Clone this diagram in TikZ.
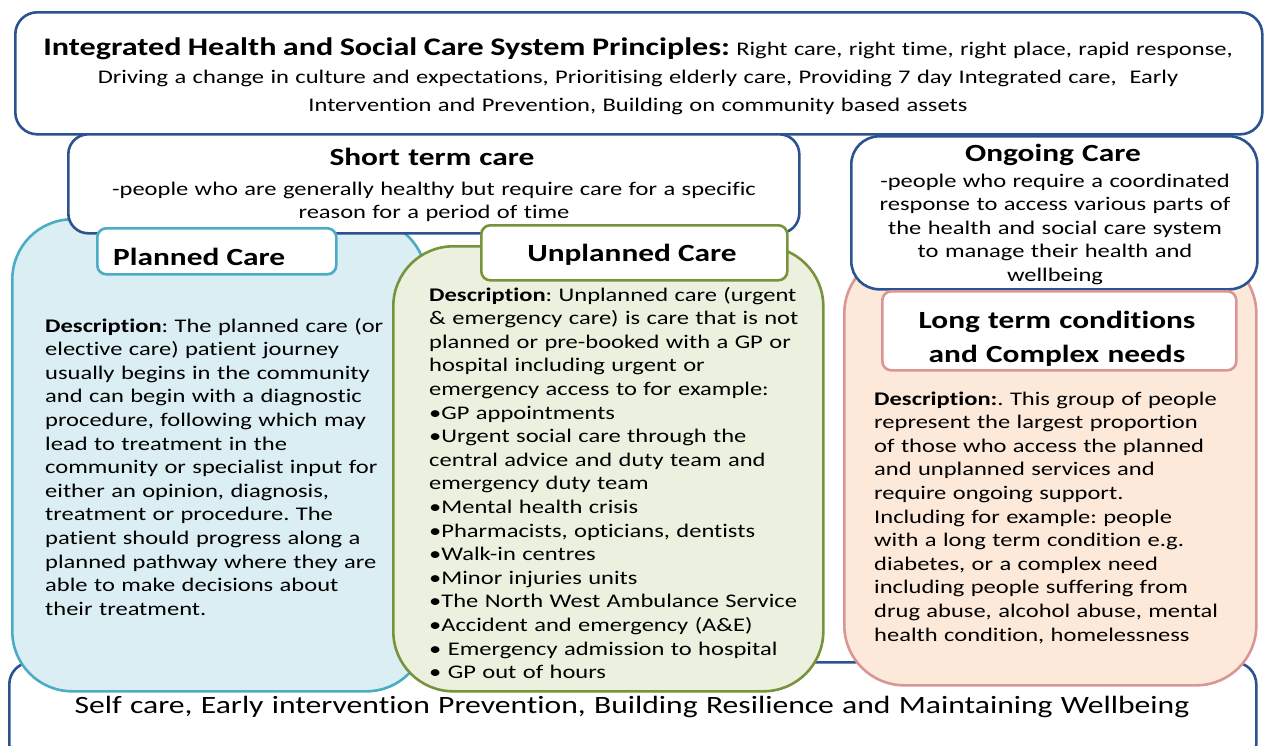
\documentclass[tikz,border=0pt]{standalone}
\usepackage{fontspec}
\setmainfont{Carlito}[FakeStretch=1.27,Ligatures={TeX,NoCommon}]
\usetikzlibrary{positioning}
\frenchspacing

\definecolor{navy}{HTML}{2C5290}
\definecolor{plannedfill}{HTML}{DAEEF3}
\definecolor{plannedline}{HTML}{4BACC6}
\definecolor{unplannedfill}{HTML}{EBF1DE}
\definecolor{unplannedline}{HTML}{77933C}
\definecolor{ltcfill}{HTML}{FDE9D9}
\definecolor{ltcline}{HTML}{D99694}

\begin{document}
\begin{tikzpicture}[x=1pt,y=-1pt,
  rimbox/.style={draw=navy,line width=2.6pt,fill=white,rounded corners=#1,inner sep=0pt,anchor=north west},
  careblock/.style={line width=2.6pt,rounded corners=60pt,inner sep=0pt,anchor=north west},
  tagbox/.style={draw=#1,line width=2.6pt,fill=white,rounded corners=9pt,inner sep=0pt,anchor=north west},
  body/.style={font=\fontsize{19.3}{23.6}\selectfont,align=left,inner sep=0pt,anchor=base west},
  mid/.style={font=\fontsize{19.3}{23.6}\selectfont,align=center,inner sep=0pt,anchor=base},
  heading/.style={font=\fontsize{24.7}{34.5}\selectfont\bfseries,align=center,inner sep=0pt,anchor=base}
]
\useasboundingbox (0,0) rectangle (1266,745);

% outer bands
\node[rimbox=22pt,minimum width=1247pt,minimum height=122pt] (principles) at (14,11) {};
\node[rimbox=22pt,minimum width=1247pt,minimum height=104pt] (base) at (8,661) {};

% planned care
\node[careblock,draw=plannedline,fill=plannedfill,minimum width=414pt,minimum height=472pt] (planned) at (11,218) {};
\node[rimbox=20pt,minimum width=731pt,minimum height=99pt] (shortterm) at (67,133) {};
\node[tagbox=plannedline,minimum width=239pt,minimum height=46pt] (plannedtag) at (96,227) {};

% unplanned care
\node[careblock,draw=unplannedline,fill=unplannedfill,minimum width=430pt,minimum height=445pt] (unplanned) at (392,245) {};
\node[tagbox=unplannedline,minimum width=306pt,minimum height=55pt] (unplannedtag) at (480,224) {};

% long term conditions
\node[careblock,draw=ltcline,fill=ltcfill,minimum width=412pt,minimum height=432pt] (ltc) at (843,252) {};
\node[rimbox=28pt,minimum width=406pt,minimum height=153pt] (ongoing) at (850,135) {};
\node[tagbox=ltcline,minimum width=354pt,minimum height=79pt] (ltctag) at (881,290) {};

% texts
\node[mid,text width=1240pt,font=\fontsize{19.3}{28}\selectfont] (principlestext) at (638,55)
  {{\fontsize{25.3}{28}\selectfont\bfseries Integrated Health and Social Care System Principles:} Right care, right time, right place, rapid response,\\
   Driving a change in culture and expectations, Prioritising elderly care, Providing 7 day Integrated care,~ Early\\
   Intervention and Prevention, Building on community based assets};

\node[heading,text width=700pt] (shorttitle) at (432,165) {Short term care};
\node[mid,text width=700pt] (shorttext) at (434,195)
  {-people who are generally healthy but require care for a specific\\reason for a period of time};

\node[heading,text width=400pt] (ongoingtitle) at (1053,161) {Ongoing Care};
\node[mid,text width=400pt] (ongoingtext) at (1055,187)
  {-people who require a coordinated\\response to access various parts of\\the health and social care system\\to manage their health and\\wellbeing};

\node[heading,anchor=base west] (plannedtitle) at (113,265) {Planned Care};
\node[heading] (unplannedtitle) at (632,261) {Unplanned Care};
\node[heading,text width=400pt] (ltctitle) at (1057,328) {Long term conditions\\and Complex needs};

\node[body,text width=400pt] (planneddesc) at (45,332)
  {\textbf{Description}: The planned care (or\\
   elective care) patient journey\\
   usually begins in the community\\
   and can begin with a diagnostic\\
   procedure, following which may\\
   lead to treatment in the\\
   community or specialist input for\\
   either an opinion, diagnosis,\\
   treatment or procedure. The\\
   patient should progress along a\\
   planned pathway where they are\\
   able to make decisions about\\
   their treatment.};

\node[body,text width=420pt] (unplanneddesc) at (429,301)
  {\textbf{Description}: Unplanned care (urgent\\
   \& emergency care) is care that is not\\
   planned or pre-booked with a GP or\\
   hospital including urgent or\\
   emergency access to for example:\\
   •GP appointments\\
   •Urgent social care through the\\
   central advice and duty team and\\
   emergency duty team\\
   •Mental health crisis\\
   •Pharmacists, opticians, dentists\\
   •Walk-in centres\\
   •Minor injuries units\\
   •The North West Ambulance Service\\
   •Accident and emergency (A\&E)\\
   • Emergency admission to hospital\\
   • GP out of hours};

\node[body,text width=400pt] (ltcdesc) at (874,405)
  {\textbf{Description:}. This group of people\\
   represent the largest proportion\\
   of those who access the planned\\
   and unplanned services and\\
   require ongoing support.\\
   Including for example: people\\
   with a long term condition e.g.\\
   diabetes, or a complex need\\
   including people suffering from\\
   drug abuse, alcohol abuse, mental\\
   health condition, homelessness};

\node[mid,text width=1240pt,font=\fontsize{24.9}{29}\selectfont] (basetext) at (632,713)
  {Self care, Early intervention Prevention, Building Resilience and Maintaining Wellbeing};
\end{tikzpicture}
\end{document}
